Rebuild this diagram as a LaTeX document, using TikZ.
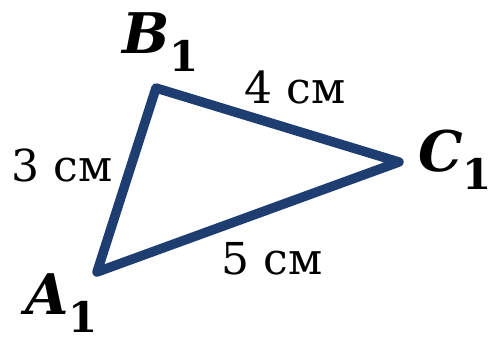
\documentclass[tikz,border=0pt]{standalone}
\usepackage{fontspec}
\setmainfont{DejaVu Serif}
\definecolor{navy}{HTML}{1E3D70}
\newcommand\subidx[1]{\raisebox{-18pt}{\fontsize{42}{48}\selectfont\bfseries\upshape #1}}
\begin{document}
\begin{tikzpicture}[x=1pt,y=-1pt,
  side/.style={draw=navy,line width=9.5pt,line join=round},
  meas/.style={font=\fontsize{44}{50}\selectfont,inner sep=0pt,text=black},
  vert/.style={font=\fontsize{56}{60}\selectfont\bfseries\itshape,inner sep=0pt,anchor=base west,text=black}]
\useasboundingbox (0,0) rectangle (492,337);
\coordinate (A) at (97,272);
\coordinate (B) at (156,88);
\coordinate (C) at (399,162);
\draw[side] (A) -- (B) -- (C) -- cycle;
\node[meas] (ab) at (62,165) {3 см};
\node[meas] (bc) at (295,87) {4 см};
\node[meas] (ca) at (272,259) {5 см};
\node[vert] (la) at (25,314) {A\subidx{1}};
\node[vert] (lb) at (122,53) {B\subidx{1}};
\node[vert] (lc) at (418,171) {C\subidx{1}};
\end{tikzpicture}
\end{document}
